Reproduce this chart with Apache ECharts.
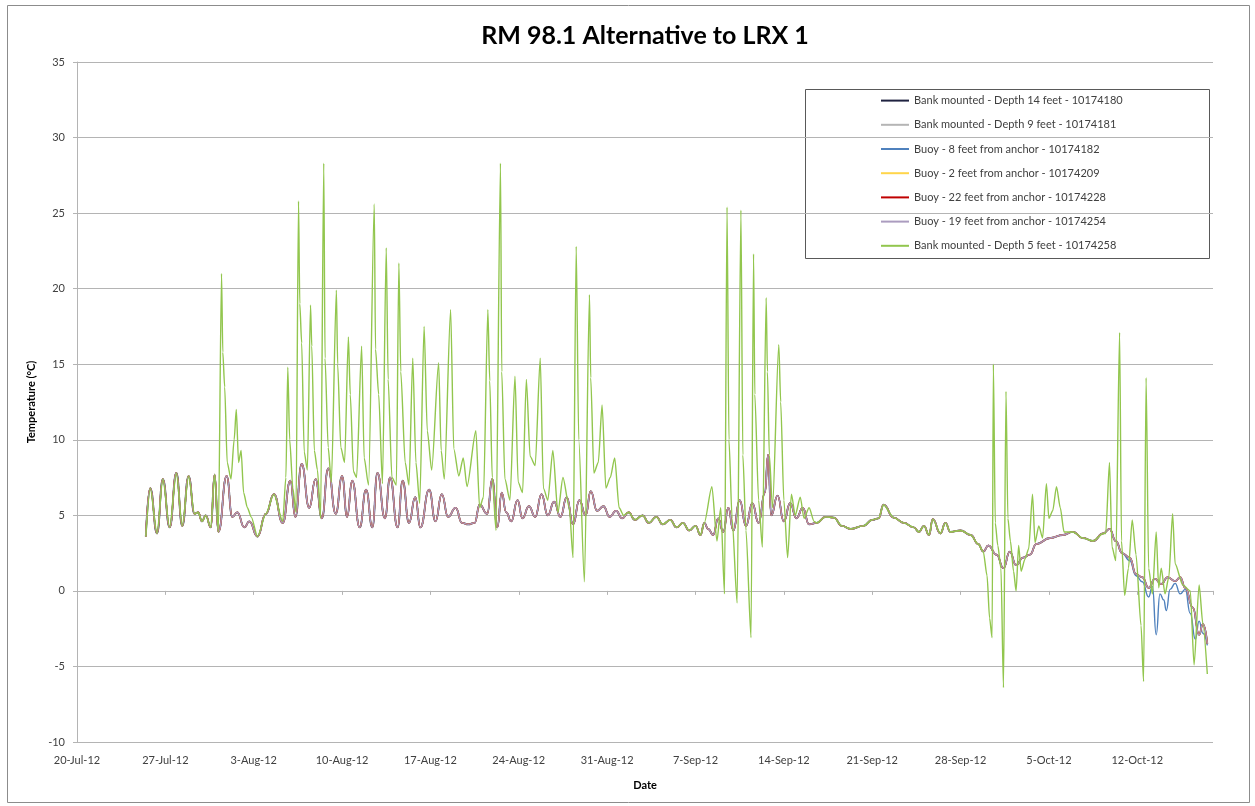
<!DOCTYPE html>
<html>
<head>
<meta charset="utf-8">
<script src="https://cdn.jsdelivr.net/npm/echarts@6/dist/echarts.min.js"></script>
<style>
  html, body { margin: 0; padding: 0; background: #fff; }
  #chart { width: 1255px; height: 806px; }
</style>
</head>
<body>
<div id="chart"></div>
<script>
// days after 20-Jul-12, temperature in degC
const seriesNames = [
  'Bank mounted - Depth 14 feet - 10174180',
  'Bank mounted - Depth 9 feet - 10174181',
  'Buoy - 8 feet from anchor - 10174182',
  'Buoy - 2 feet from anchor - 10174209',
  'Buoy - 22 feet from anchor - 10174228',
  'Buoy - 19 feet from anchor - 10174254',
  'Bank mounted - Depth 5 feet - 10174258'
]
const seriesColors = ['#1f2240', '#b5b5b5', '#4f81bd', '#ffd54a', '#c00000', '#ab9cbf', '#92c64e']

const monthNames = ['Jan', 'Feb', 'Mar', 'Apr', 'May', 'Jun', 'Jul', 'Aug', 'Sep', 'Oct', 'Nov', 'Dec']

// deep loggers, shared shape of the calm water
const baseTemps = [
  [5.45,3.6],[5.8,6.8],[6.34,3.8],[6.8,7.4],[7.34,4.2],[7.87,7.8],[8.34,4.3],[8.84,7.6],[9.31,5.1],[9.6,5.2],
  [9.9,4.6],[10.2,5.0],[10.6,4.2],[10.9,7.7],[11.2,3.9],[11.86,7.6],[12.3,4.9],[12.7,5.2],[13.26,4.2],[13.65,4.6],
  [14.3,3.6],[14.96,5.1],[15.6,6.4],[16.3,4.5],[16.9,7.3],[17.3,4.9],[17.8,8.4],[18.4,5.5],[18.9,7.4],[19.4,4.8],
  [19.9,8.1],[20.5,5.1],[21.0,7.6],[21.4,4.9],[21.8,7.3],[22.4,4.2],[22.9,6.7],[23.4,4.2],[23.8,7.8],[24.4,4.8],
  [24.8,7.5],[25.4,4.2],[25.8,7.3],[26.3,4.5],[26.8,6.2],[27.2,4.2],[27.9,6.7],[28.4,4.6],[28.9,6.4],[29.4,4.9],
  [30.0,5.5],[30.5,4.5],[31.0,4.4],[31.5,4.5],[31.9,5.7],[32.5,5.1],[32.9,7.4],[33.3,4.2],[33.65,6.5],[34.0,5.2],
  [34.4,4.6],[34.9,6.0],[35.3,4.8],[35.8,5.6],[36.3,4.9],[36.8,6.4],[37.3,5.0],[37.8,5.9],[38.3,4.9],[38.8,6.2],
  [39.3,4.4],[39.8,6.0],[40.3,5.0],[40.7,6.6],[41.2,5.3],[41.7,5.6],[42.2,4.9],[42.7,5.3],[43.2,4.8],[43.7,5.2],
  [44.2,4.7],[44.8,5.0],[45.3,4.5],[45.9,4.9],[46.4,4.4],[47.0,4.7],[47.5,4.2],[48.0,4.5],[48.5,4.0],[49.0,4.3],
  [49.4,3.7],[49.7,4.5],[50.0,4.1],[50.4,3.7],[50.8,4.8],[51.2,3.9],[51.6,5.5],[52.0,4.0],[52.5,6.0],[53.0,4.3],
  [53.5,5.8],[54.0,4.5],[54.5,6.5],[54.75,9.0],[55.0,5.0],[55.5,6.3],[56.0,4.6],[56.5,5.8],[57.0,4.8],[57.5,5.5],
  [58.0,4.4],[58.6,4.5],[59.3,4.9],[59.96,4.85],[60.6,4.3],[61.3,4.1],[62.3,4.3],[63.0,4.7],[63.5,4.8],[63.9,5.7],
  [64.7,4.85],[65.5,4.5],[66.3,4.2],[66.7,3.9],[67.1,4.3],[67.5,3.7],[67.8,4.75],[68.4,3.8],[68.8,4.5],[69.2,3.9],
  [70.0,4.0],[70.8,3.7],[71.4,3.1],[71.8,2.6],[72.2,3.0],[72.85,2.4],[73.4,1.5],[73.9,2.6],[74.4,1.7],[74.95,2.2],
  [75.5,2.4],[76.0,3.1],[77.1,3.5],[78.1,3.7],[78.9,3.9],[79.7,3.5],[80.5,3.3],[81.3,3.8],[81.8,4.1],[82.3,3.3],
  [82.8,2.5],[83.4,2.2],[83.9,1.1],[84.4,0.9],[84.9,0.2],[85.4,0.8],[85.9,0.45],[86.4,0.9],[87.0,0.65],[87.4,0.9],
  [87.8,0.2],[88.4,-1.1],[88.9,-2.9],[89.2,-2.2],[89.55,-3.5]
]

// buoy 8 ft drops below the others in mid October
const buoyLate = [
  [83.4,2.0],[83.9,1.0],[84.4,0.6],[84.9,-0.4],[85.2,0.3],[85.5,-2.9],[85.8,-0.2],[86.1,-0.6],[86.3,-1.3],
  [86.6,0.1],[87.0,0.5],[87.4,-0.2],[87.8,0.1],[88.2,-1.5],[88.6,-3.2],[88.9,-2.0],[89.2,-2.8],[89.55,-3.6]
]

// shallow bank logger (5 ft): sun-exposed spikes
const shallowAug = [
  [11.2,3.9],[11.45,21],[11.55,15.8],[11.7,13.5],[11.9,8.5],[12.2,7.4],[12.45,10],[12.62,12],[12.8,8.5],[13.0,9.3],
  [13.2,6.5],[13.5,5.5],[13.8,4.9],[14.3,3.6],[14.96,5.1],[15.6,6.4],[16.3,4.6],[16.55,7.5],[16.7,14.8],[16.85,10],
  [17.1,6.8],[17.35,5.2],[17.55,25.8],[17.65,19],[17.8,16.4],[18.0,9.2],[18.25,8.0],[18.5,18.9],[18.6,16.2],[18.8,9.3],
  [19.05,8],[19.3,4.8],[19.55,28.3],[19.65,15.4],[19.9,9.5],[20.15,7.2],[20.55,19.9],[20.65,15],[20.9,9.5],[21.2,8.5],
  [21.5,16.8],[21.65,13],[21.9,7.9],[22.15,7.5],[22.55,16.2],[22.75,8.8],[23.1,7.0],[23.55,25.6],[23.65,16],[23.9,13],
  [24.2,7.1],[24.5,22.7],[24.65,14],[24.95,7.5],[25.3,7.0],[25.5,21.7],[25.65,14.5],[26.0,8.5],[26.3,7.0],[26.6,15.4],
  [26.85,8.5],[27.15,5.8],[27.5,17.5],[27.75,10.6],[28.1,8.0],[28.65,15.1],[28.85,9.3],[29.1,7.4],[29.6,18.6],[29.85,9.4],
  [30.25,7.6],[30.6,8.8],[30.9,6.9],[31.6,10.6],[31.9,5.5],[32.2,6.2],[32.55,18.6],[32.7,13.9],[32.9,7.5],[33.2,4.0],
  [33.55,28.3],[33.65,14.5],[33.9,7.4],[34.3,6.0],[34.7,14.2],[34.95,7.2],[35.3,6.5],[35.6,14.0],[35.9,8.9],[36.3,8.3],
  [36.7,15.4],[36.95,6.8],[37.3,6.0],[37.7,9.3],[38.1,5.2],[38.5,7.5],[39.0,5.5],[39.3,2.2],[39.55,22.8],[39.75,10],
  [40.2,0.6],[40.6,19.6],[40.7,14.1],[40.95,7.8],[41.3,8.5],[41.6,12.3],[41.9,6.8],[42.25,7.5],[42.6,8.8],[42.95,5.5],
  [43.3,5.0]
]
const shallowSep = [
  [49.7,4.5],[50.3,6.9],[50.7,3.3],[51.0,5.5],[51.3,-0.2],[51.5,25.4],[51.65,10],[51.9,4.8],[52.3,-0.8],[52.6,25.2],
  [52.75,9],[53.0,4.0],[53.4,-3.1],[53.6,22.3],[53.7,13],[54.0,6],[54.3,2.9],[54.6,19.4],[54.7,14.5],[54.85,9],
  [55.1,5.5],[55.6,16.3],[55.75,12.5],[56.0,6],[56.3,2.2],[56.6,6.4],[56.9,5.0],[57.3,6.2],[57.6,4.8],[58.0,5.5],
  [58.4,4.6]
]
const shallowOctA = [
  [71.4,3.1],[71.8,2.6],[72.1,1.0],[72.3,-1.8],[72.5,-3.1],[72.6,15.0],[72.75,4.5],[72.95,3.0],[73.2,1.5],[73.4,-6.4],
  [73.6,13.2],[73.75,4.8],[73.95,3.3],[74.2,1.3],[74.4,0.0],[74.6,3.0],[74.8,1.3],[75.1,2.1],[75.4,2.8],[75.7,6.4],
  [75.9,3.2],[76.2,4.3],[76.5,3.5],[76.8,7.1],[77.0,4.8],[77.3,5.3],[77.6,6.9],[77.9,5.5],[78.2,3.9]
]
const shallowOctB = [
  [81.5,3.8],[81.8,8.5],[82.0,2.9],[82.3,2.0],[82.6,17.1],[82.75,3.3],[83.0,-0.3],[83.3,1.5],[83.6,4.7],[83.9,2.4],
  [84.3,-2.3],[84.5,-6.0],[84.7,14.1],[84.9,1.5],[85.2,-0.2],[85.5,3.9],[85.7,0.2],[85.9,1.5],[86.2,-0.2],[86.5,0.9],
  [86.8,5.1],[87.0,1.8],[87.6,0.4],[88.2,0.0],[88.5,-4.9],[88.9,0.4],[89.2,-2.2],[89.55,-5.5]
]

// base points outside the burst ranges + the bursts themselves
function withBursts(base, bursts) {
  const out = base.filter(p => !bursts.some(b => p[0] >= b[0][0] && p[0] <= b[b.length - 1][0]))
  bursts.forEach(b => out.push(...b))
  return out.sort((a, b) => a[0] - b[0])
}

const seriesData = [
  baseTemps,
  baseTemps,
  withBursts(baseTemps, [buoyLate]),
  baseTemps,
  baseTemps,
  baseTemps,
  withBursts(baseTemps, [shallowAug, shallowSep, shallowOctA, shallowOctB])
]

function dayLabel(d) {
  const t = new Date(Date.UTC(2012, 6, 20 + d))
  return t.getUTCDate() + '-' + monthNames[t.getUTCMonth()] + '-12'
}

const chart = echarts.init(document.getElementById('chart'))
const gridColor = '#b4b4b4'
const font = 'Lato, "Open Sans", sans-serif'

chart.setOption({
  animation: false,
  textStyle: { fontFamily: font },
  title: {
    text: 'RM 98.1 Alternative to LRX 1',
    left: 640,
    top: 18,
    textAlign: 'center',
    textStyle: { fontSize: 25, fontWeight: 'bold', color: '#000', fontFamily: font }
  },
  grid: { left: 77, right: 42, top: 62, bottom: 64 },
  legend: {
    orient: 'vertical',
    left: 880,
    top: 95,
    itemWidth: 28,
    itemHeight: 14,
    itemGap: 13,
    padding: 0,
    itemStyle: { opacity: 0 },
    textStyle: { fontSize: 11, color: '#404040', fontFamily: font },
    data: seriesNames
  },
  xAxis: [
    {
      type: 'value',
      min: 0,
      max: 90,
      interval: 7,
      name: 'Date',
      nameLocation: 'middle',
      nameGap: 38,
      nameTextStyle: { fontSize: 11, fontWeight: 'bold', color: '#000' },
      axisLine: { show: false, onZero: false },
      axisTick: { show: false },
      splitLine: { show: false },
      axisLabel: {
        fontSize: 11, color: '#404040', margin: 13, showMaxLabel: false,
        formatter: v => dayLabel(v)
      }
    },
    {
      type: 'value',
      min: 0,
      max: 90,
      interval: 7,
      position: 'bottom',
      axisLine: { show: true, onZero: true, lineStyle: { color: gridColor, width: 1 } },
      axisTick: { show: true, length: 4, lineStyle: { color: gridColor } },
      axisLabel: { show: false },
      splitLine: { show: false }
    }
  ],
  yAxis: {
    type: 'value',
    min: -10,
    max: 35,
    interval: 5,
    name: 'Temperature (°C)',
    nameLocation: 'middle',
    nameRotate: 90,
    nameGap: 40,
    nameTextStyle: { fontSize: 11, fontWeight: 'bold', color: '#000' },
    axisLine: { show: true, lineStyle: { color: gridColor } },
    axisTick: { show: true, length: 4, lineStyle: { color: gridColor } },
    axisLabel: { fontSize: 11, color: '#404040', margin: 12 },
    splitLine: { show: true, lineStyle: { color: gridColor, width: 1 } }
  },
  series: seriesNames.map((name, i) => ({
    name: name,
    type: 'line',
    xAxisIndex: 0,
    data: seriesData[i],
    symbol: 'none',
    color: seriesColors[i],
    smooth: i === 6 ? 0.25 : 0.5,
    smoothMonotone: 'x',
    lineStyle: { width: i === 0 ? 1.8 : 1.4, color: seriesColors[i] },
    z: 2 + i
  })),
  graphic: [
    {
      type: 'rect',
      shape: { x: 7.5, y: 5.5, width: 1242, height: 797 },
      style: { fill: 'none', stroke: '#8c8c8c', lineWidth: 1 },
      silent: true
    },
    {
      type: 'rect',
      shape: { x: 805.5, y: 89.5, width: 404, height: 169 },
      style: { fill: 'none', stroke: '#595959', lineWidth: 1 },
      silent: true
    }
  ]
})
</script>
</body>
</html>
